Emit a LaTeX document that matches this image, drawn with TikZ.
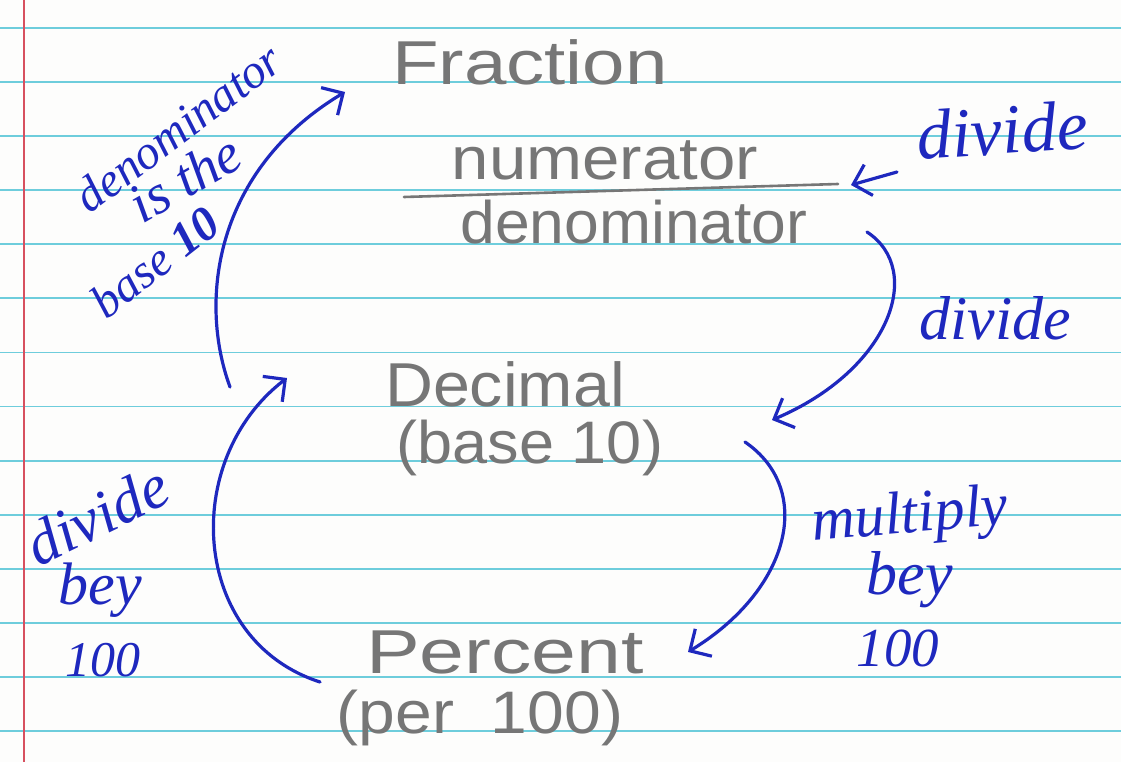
\documentclass[tikz,border=0pt]{standalone}
\usepackage{fontspec}
\setmainfont{Liberation Sans}
\newfontfamily\pencilfont{Liberation Sans}
\newfontfamily\inkfont{Liberation Serif}
\usetikzlibrary{arrows.meta}
\definecolor{paper}{RGB}{253,253,252}
\definecolor{ruled}{RGB}{110,205,220}
\definecolor{margin}{RGB}{215,80,95}
\definecolor{pencil}{RGB}{118,118,118}
\definecolor{ink}{RGB}{30,40,190}
\newcommand{\hwx}[2]{\scalebox{#1}[1]{#2}}
\tikzset{
  penciltext/.style={text=pencil, inner sep=0pt, anchor=center},
  inktext/.style={text=ink, inner sep=0pt, anchor=center},
  inkarrow/.style={draw=ink, line width=3.2pt, line cap=round,
    -{Straight Barb[length=16pt,width=32pt,line width=3.2pt]}},
}
\begin{document}
\begin{tikzpicture}[x=1pt,y=-1pt]
\useasboundingbox (0,0) rectangle (1121,762);
\fill[paper] (0,0) rectangle (1121,762);
% ruled lines
\foreach \k in {0,...,13}{
  \draw[ruled, line width=1.8pt] (0,{27.7+54.12*\k}) -- (1121,{27.7+54.12*\k});
}
% margin
\draw[margin, line width=1.4pt] (24,0) -- (24,762);

% pencil texts
\node[penciltext, font=\pencilfont\fontsize{62}{62}\selectfont] (fraction) at (530,62) {\hwx{1.23}{Fraction}};
\node[penciltext, font=\pencilfont\fontsize{60}{60}\selectfont] (num) at (605,160) {\hwx{1.12}{numerator}};
\node[penciltext, font=\pencilfont\fontsize{60}{60}\selectfont] (den) at (634,222) {\hwx{1.04}{denominator}};
\coordinate (barL) at (404,197);
\coordinate (barR) at (838,184);
\draw[pencil, line width=2.6pt, line cap=round] (barL) -- (barR);
\node[penciltext, font=\pencilfont\fontsize{62}{62}\selectfont] (decimal) at (505,384) {\hwx{1.07}{Decimal}};
\node[penciltext, font=\pencilfont\fontsize{60}{60}\selectfont] (base) at (530,448) {\hwx{1.05}{(base 10)}};
\node[penciltext, font=\pencilfont\fontsize{62}{62}\selectfont] (percent) at (505,652) {\hwx{1.3}{Percent}};
\node[penciltext, font=\pencilfont\fontsize{60}{60}\selectfont] (per) at (480,718) {\hwx{1.1}{(per\ \ 100)}};

% ink texts
\node[inktext, font=\inkfont\itshape\fontsize{70}{70}\selectfont, rotate=4] (divA) at (1002,130) {divide};
\node[inktext, font=\inkfont\itshape\fontsize{62}{62}\selectfont] (divB) at (995,318) {divide};
\node[inktext, font=\inkfont\itshape\fontsize{60}{60}\selectfont, rotate=5] (mult) at (910,518) {multiply};
\node[inktext, font=\inkfont\itshape\fontsize{62}{62}\selectfont] (beyR) at (910,580) {bey};
\node[inktext, font=\inkfont\itshape\fontsize{55}{55}\selectfont] (hundR) at (898,648) {100};
\node[inktext, font=\inkfont\itshape\fontsize{62}{62}\selectfont, rotate=26] (divL) at (97,515) {divide};
\node[inktext, font=\inkfont\itshape\fontsize{60}{60}\selectfont] (beyL) at (100,590) {bey};
\node[inktext, font=\inkfont\itshape\fontsize{50}{50}\selectfont] (hundL) at (103,660) {100};
\node[inktext, font=\inkfont\itshape\fontsize{48}{48}\selectfont, rotate=37] (denL) at (178,128) {denominator};
\node[inktext, font=\inkfont\itshape\fontsize{56}{56}\selectfont, rotate=30] (isthe) at (185,178) {is the};
\node[inktext, font=\inkfont\itshape\fontsize{48}{48}\selectfont, rotate=38] (baseL) at (155,262) {base {\bfseries 10}};

% arrow end points
\coordinate (a1s) at (230,387);
\coordinate (a1e) at (345,92);
\coordinate (a2s) at (897,172);
\coordinate (a2e) at (851,185);
\coordinate (a3s) at (867,232);
\coordinate (a3e) at (772,420);
\coordinate (a4s) at (745,442);
\coordinate (a4e) at (688,652);
\coordinate (a5s) at (320,682);
\coordinate (a5e) at (287,378);

% arrows
\draw[inkarrow] (a1s) .. controls (198,300) and (215,170) .. (a1e);
\draw[inkarrow] (a2s) -- (a2e);
\draw[inkarrow] (a3s) .. controls (925,270) and (890,370) .. (a3e);
\draw[inkarrow] (a4s) .. controls (815,490) and (790,590) .. (a4e);
\draw[inkarrow] (a5s) .. controls (190,640) and (180,460) .. (a5e);
\end{tikzpicture}
\end{document}
